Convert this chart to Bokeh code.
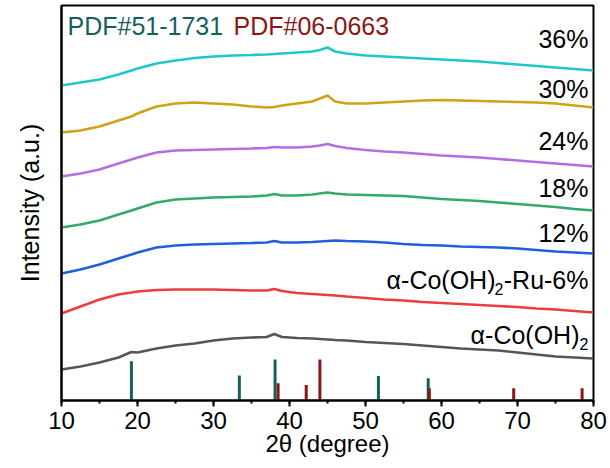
from bokeh.plotting import figure
from bokeh.models import Label, SingleIntervalTicker, FixedTicker, Range1d
from bokeh.embed import file_html
from bokeh.resources import INLINE

# ---------------- data ----------------
two_theta = [10, 12.5, 15, 17.5, 19.2, 20, 22.5, 25, 27.5, 30, 32.5, 35, 37, 38, 39,
             41, 43, 44, 45, 46, 47.5, 50, 52.5, 55, 57.5, 60, 62.5, 65, 67.5, 70,
             72.5, 75, 77.5, 80]

# stacked (offset) intensities, a.u.
i_36 = [315, 318, 321, 326, 330, 332, 337, 340, 342.5, 344, 345, 345.5, 346, 346.5, 347,
        348, 349, 350.5, 353, 349, 347, 345, 344, 343, 342, 341, 340, 339, 337.5, 336,
        334.5, 333, 331.5, 330]
i_30 = [268, 270, 274, 280, 284, 287, 294, 297, 298, 297, 296, 294, 293, 293.5, 295,
        297, 299, 302, 305, 299, 297, 297, 298, 299, 300, 300.5, 300, 299.5, 299, 298.5,
        298, 297, 295, 293]
i_24 = [224, 227, 231, 237, 241, 243, 248, 250, 250.5, 251, 251.5, 252, 252.5, 253.5, 253,
        253, 254, 255, 256.5, 254.5, 252.5, 250.5, 249, 248, 246.5, 245, 244, 243, 241.5, 240,
        238.5, 237, 235.5, 234]
i_18 = [173, 176, 180, 186, 190, 192, 198, 201, 202, 203, 203.5, 204, 205, 206.5, 205,
        205, 206, 207, 208, 207, 206, 205.5, 205, 204.5, 203, 201.5, 200.5, 199.5, 198, 196.5,
        195, 193.5, 191.5, 190]
i_12 = [127, 131, 136, 142, 146, 148, 153, 155, 156, 156.5, 157, 157.5, 158, 159.5, 158,
        158, 158.5, 159, 159.5, 160, 159.5, 159, 158, 156.5, 155.5, 155, 154, 153.5, 153, 152,
        150.5, 149, 148, 147]
i_6 = [87, 94, 101, 106, 108, 109, 110.5, 111, 111, 111, 110.5, 110, 110, 111.5, 109.5,
       107.5, 106.5, 106, 105.5, 105, 104, 102.5, 101, 100, 98.5, 97.5, 96.5, 95.5, 94.5, 93.5,
       92, 91, 89.5, 88]
i_0 = [31, 34, 38, 43, 48.5, 48, 52, 55, 57, 60, 62, 63, 63.5, 66.5, 63.5,
       62.5, 62, 61.5, 61, 60.5, 60, 58.5, 57.5, 56.5, 55, 53.5, 52, 51, 50, 48,
       46, 44, 43, 42]

series_colors = ["#22c6c8", "#d2a116", "#b36fe0", "#34a96c", "#1f5fdc", "#ec3d3d", "#555555"]

# reference patterns (relative intensity, %)
pdf51_pos = [19.2, 33.4, 38.1, 51.7, 58.25]
pdf51_int = [96, 61, 100, 60, 54]
pdf06_pos = [38.5, 42.2, 44.0, 58.4, 69.5, 78.5]
pdf06_int = [42, 38, 100, 30, 30, 30]
stick_scale = 0.41

x_ticks_interval = 10

TEAL = "#155f60"
DRED = "#8a1616"
FONT = "Liberation Sans"

# ---------------- figure ----------------
p = figure(width=610, height=468, output_backend="svg", toolbar_location=None,
           x_range=Range1d(10, 80), y_range=Range1d(0, 395),
           min_border_left=61, min_border_right=17, min_border_top=5, min_border_bottom=68)
p.grid.visible = False
p.outline_line_color = "black"
p.outline_line_width = 2
p.outline_line_alpha = 1
p.background_fill_color = "white"
p.border_fill_color = "white"

ax = p.xaxis[0]
ax.ticker = SingleIntervalTicker(interval=x_ticks_interval, num_minor_ticks=2)
ax.axis_line_width = 2
ax.major_tick_line_width = 2
ax.minor_tick_line_width = 2
ax.major_tick_out = 6
ax.major_tick_in = 0
ax.minor_tick_out = 3
ax.minor_tick_in = 0
ax.major_label_text_font = FONT
ax.major_label_text_font_size = "24px"
ax.major_label_text_color = "black"
ax.major_label_standoff = 5
ax.axis_label = "2θ (degree)"
ax.axis_label_text_font = FONT
ax.axis_label_text_font_size = "24px"
ax.axis_label_text_font_style = "normal"
ax.axis_label_text_color = "black"
ax.axis_label_standoff = -2

ay = p.yaxis[0]
ay.ticker = FixedTicker(ticks=[])
ay.axis_line_width = 2
ay.major_tick_out = 0
ay.major_tick_in = 0
ay.minor_tick_out = 0
ay.minor_tick_in = 0
ay.major_label_standoff = 0
ay.axis_label = "Intensity (a.u.)"
ay.axis_label_text_font = FONT
ay.axis_label_text_font_size = "25px"
ay.axis_label_text_font_style = "normal"
ay.axis_label_text_color = "black"
ay.axis_label_standoff = 18

# curves
for ys, col in zip([i_0, i_6, i_12, i_18, i_24, i_30, i_36], series_colors[::-1]):
    p.line(two_theta, ys, line_color=col, line_width=2.6)

# sticks
p.segment(x0=pdf51_pos, y0=[0] * len(pdf51_pos), x1=pdf51_pos,
          y1=[v * stick_scale for v in pdf51_int], line_color=TEAL, line_width=3)
p.segment(x0=pdf06_pos, y0=[0] * len(pdf06_pos), x1=pdf06_pos,
          y1=[v * stick_scale for v in pdf06_int], line_color=DRED, line_width=3)

# labels
def lab(text, x, y, xoff, size="25px", color="black", align="right"):
    p.add_layout(Label(x=x, y=y, x_offset=xoff, text=text, text_align=align,
                       text_baseline="middle", text_font=FONT, text_font_size=size,
                       text_color=color))

lab("36%", 80, 362, -5)
lab("30%", 80, 312, -5)
lab("24%", 80, 260, -5)
lab("18%", 80, 213, -5)
lab("12%", 80, 168, -5)
lab("-Ru-6%", 80, 121, -5)
lab("2", 80, 112, -90, size="16px")
lab("α-Co(OH)", 80, 121, -98)
lab("2", 80, 57, -5, size="16px")
lab("α-Co(OH)", 80, 66, -14)

lab("PDF#51-1731", 10, 375, 6, color=TEAL, align="left")
lab("PDF#06-0663", 10, 375, 172, color=DRED, align="left")

open("out.html", "w").write(file_html(p, INLINE))
